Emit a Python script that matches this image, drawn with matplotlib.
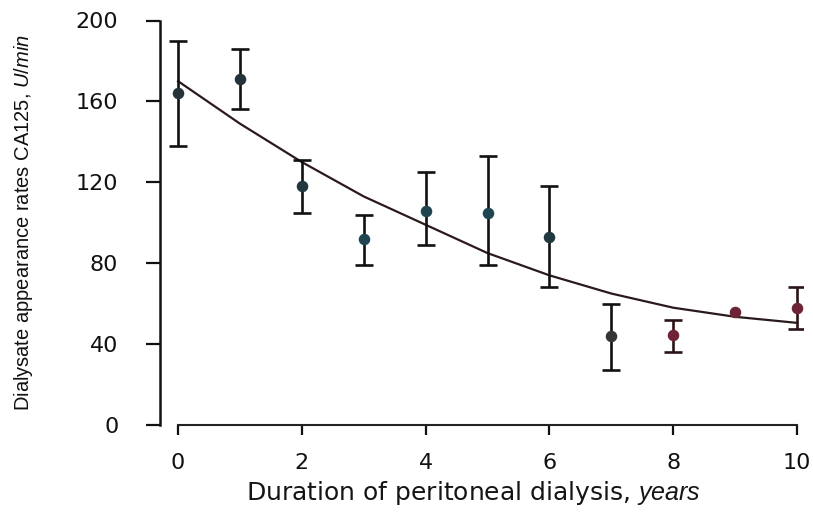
import numpy as np
import matplotlib
matplotlib.use("Agg")
import matplotlib.pyplot as plt

# ---- data ----
years = [0, 1, 2, 3, 4, 5, 6, 7, 8, 9, 10]
rate_mean = [164, 171, 118, 92, 106, 105, 93, 44, 44.5, 56, 58]
err_upper = [190, 186, 131, 104, 125, 133, 118, 60, 52, 56, 68]
err_lower = [138, 156, 105, 79, 89, 79, 68, 27, 36, 56, 47.5]
curve_years = [0, 1, 2, 3, 4, 5, 6, 7, 8, 9, 10]
curve_rate = [170, 149, 130, 113, 99, 85, 74, 65, 58, 53.5, 50.5]
x_ticks = [0, 2, 4, 6, 8, 10]
y_ticks = [0, 40, 80, 120, 160, 200]

marker_colors = ['#25323a', '#25323a', '#22383f', '#1f4550', '#1f4550', '#1f4550',
                 '#22383f', '#353535', '#6e2436', '#6e2436', '#6e2436']
bar_colors = ['#111111'] * 8 + ['#2a1418'] * 3

plt.rcParams['mathtext.fontset'] = 'custom'
plt.rcParams['mathtext.it'] = 'Liberation Sans:italic'
plt.rcParams['mathtext.rm'] = 'Liberation Sans'
plt.rcParams['ytick.major.pad'] = 20
plt.rcParams['xtick.major.pad'] = 13
plt.rcParams['ytick.major.size'] = 10
plt.rcParams['xtick.major.size'] = 7
plt.rcParams['ytick.major.width'] = 1.6
plt.rcParams['xtick.major.width'] = 1.6

fig = plt.figure(figsize=(8.13, 5.12), dpi=100)
L, R = 160 / 813, 803 / 813
B, T = 1 - 425 / 512, 1 - 20.5 / 512
ax = fig.add_axes([L, B, R - L, T - B])

ax.plot(curve_years, curve_rate, color='#2b1a1c', lw=1.6, zorder=2)

for i, x in enumerate(years):
    lo = rate_mean[i] - err_lower[i]
    hi = err_upper[i] - rate_mean[i]
    if hi + lo > 0:
        ax.errorbar([x], [rate_mean[i]], yerr=[[lo], [hi]], fmt='none',
                    ecolor=bar_colors[i], elinewidth=1.9, capsize=6.5,
                    capthick=1.9, zorder=3)
    ax.plot([x], [rate_mean[i]], 'o', ms=7.3, color=marker_colors[i], zorder=4)

ax.set_xlim(-18 / 61.7, 10 + 6 / 61.7)
ax.set_ylim(0, 200)

for s in ['top', 'right']:
    ax.spines[s].set_visible(False)
ax.spines['left'].set_bounds(0, 200)
ax.spines['bottom'].set_bounds(0, 10)
ax.spines['left'].set_linewidth(1.8)
ax.spines['bottom'].set_linewidth(1.5)
ax.spines['left'].set_color('#111111')
ax.spines['bottom'].set_color('#222222')

ax.set_xticks(x_ticks)
ax.set_yticks(y_ticks)
ax.set_xticklabels([str(v) for v in x_ticks], fontfamily='DejaVu Sans', fontsize=16, color='#151515')
ax.set_yticklabels([str(v) for v in y_ticks], fontfamily='DejaVu Sans', fontsize=16, color='#151515')
ax.tick_params(axis='both', colors='#111111')

ax.set_xlabel('Duration of peritoneal dialysis, $\\it{years}$', fontfamily='DejaVu Sans',
              fontsize=18, color='#151515')
ax.xaxis.set_label_coords((473 - 160) / 643, (425 - 479) / 404.5)
ax.set_ylabel('Dialysate appearance rates CA125, $\\it{U/min}$', fontfamily='Liberation Sans',
              fontsize=14.5, color='#111111')
ax.yaxis.set_label_coords((35 - 160) / 643, 0.5)

fig.savefig('out.png', dpi=100)
